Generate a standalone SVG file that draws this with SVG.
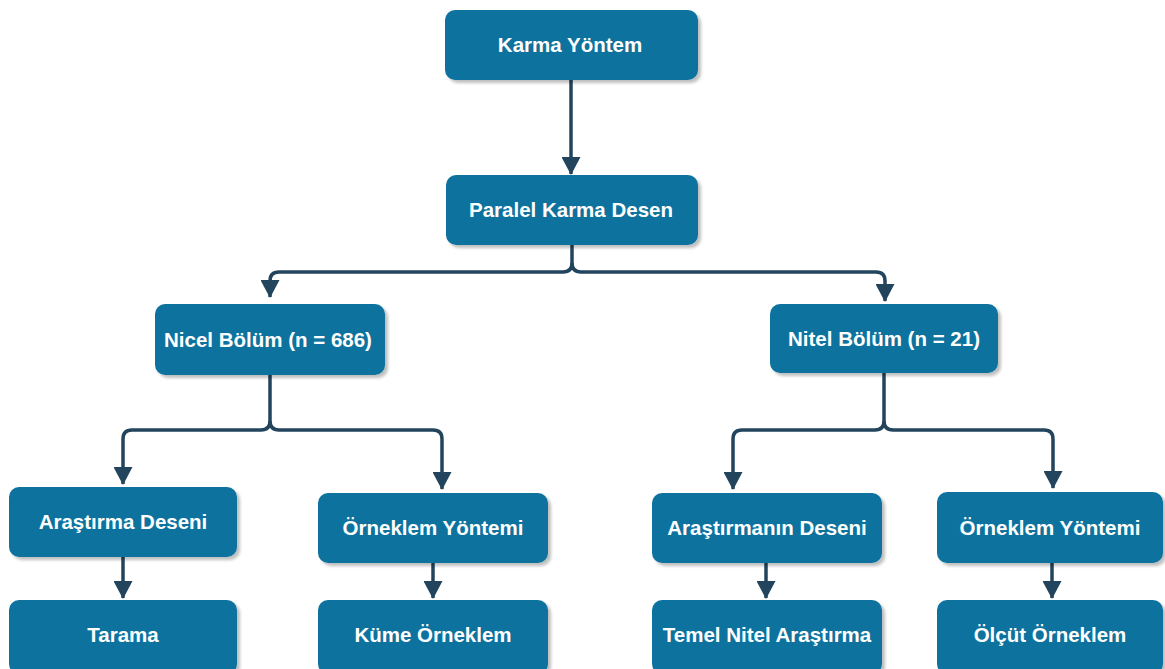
<svg xmlns="http://www.w3.org/2000/svg" width="1165" height="669" viewBox="0 0 1165 669">
<style>
.box{fill:#10739E;filter:url(#sh)}
.t{fill:#ffffff;font-family:"Liberation Sans",Arial,sans-serif;font-weight:bold;font-size:20.5px;text-anchor:middle}
.c{fill:none;stroke:#23445D;stroke-width:3.5;stroke-linejoin:round}
</style>
<defs>
<filter id="sh" x="-10%" y="-10%" width="130%" height="140%">
<feDropShadow dx="3" dy="3" stdDeviation="1.5" flood-color="#000" flood-opacity="0.25"/>
</filter>
<marker id="a" viewBox="0 0 18 19" refX="17" refY="9.5" markerWidth="18" markerHeight="19" orient="auto" markerUnits="userSpaceOnUse">
<path d="M0,0 L18,9.5 L0,19 Z" fill="#23445D"/>
</marker>
</defs>
<rect width="1165" height="669" fill="#ffffff"/>
<g id="connectors">
<path class="c" d="M571,80 V174" marker-end="url(#a)"/>
<path class="c" d="M572,245 V263 Q572,272 563,272 H279 Q270,272 270,281 V297" marker-end="url(#a)"/>
<path class="c" d="M572,263 Q572,272 581,272 H876 Q885,272 885,281 V301" marker-end="url(#a)"/>
<path class="c" d="M270,375 V421 Q270,430 261,430 H132 Q123,430 123,439 V484" marker-end="url(#a)"/>
<path class="c" d="M270,421 Q270,430 279,430 H433 Q442,430 442,439 V489" marker-end="url(#a)"/>
<path class="c" d="M884,373 V421 Q884,430 875,430 H742 Q733,430 733,439 V489" marker-end="url(#a)"/>
<path class="c" d="M884,421 Q884,430 893,430 H1044 Q1053,430 1053,439 V488" marker-end="url(#a)"/>
<path class="c" d="M123,557 V598" marker-end="url(#a)"/>
<path class="c" d="M433,563 V598" marker-end="url(#a)"/>
<path class="c" d="M766,563 V598" marker-end="url(#a)"/>
<path class="c" d="M1052,563 V598" marker-end="url(#a)"/>
</g>
<g id="n-karma"><rect class="box" x="445" y="10" width="253" height="70" rx="10"/><text class="t" x="570" y="52">Karma Yöntem</text></g>
<g id="n-paralel"><rect class="box" x="446" y="175" width="252" height="70" rx="10"/><text class="t" x="571" y="217">Paralel Karma Desen</text></g>
<g id="n-nicel"><rect class="box" x="155" y="304" width="230" height="71" rx="10"/><text class="t" x="268" y="347">Nicel Bölüm (n = 686)</text></g>
<g id="n-nitel"><rect class="box" x="770" y="304" width="228" height="69" rx="10"/><text class="t" x="884" y="346">Nitel Bölüm (n = 21)</text></g>
<g id="n-arastirma"><rect class="box" x="9" y="487" width="228" height="70" rx="10"/><text class="t" x="123" y="529">Araştırma Deseni</text></g>
<g id="n-orneklem1"><rect class="box" x="318" y="493" width="230" height="70" rx="10"/><text class="t" x="433" y="535">Örneklem Yöntemi</text></g>
<g id="n-arastirmanin"><rect class="box" x="652" y="493" width="230" height="70" rx="10"/><text class="t" x="767" y="535">Araştırmanın Deseni</text></g>
<g id="n-orneklem2"><rect class="box" x="937" y="492" width="226" height="71" rx="10"/><text class="t" x="1050" y="535">Örneklem Yöntemi</text></g>
<g id="n-tarama"><rect class="box" x="9" y="600" width="228" height="74" rx="10"/><text class="t" x="123" y="642">Tarama</text></g>
<g id="n-kume"><rect class="box" x="318" y="600" width="230" height="74" rx="10"/><text class="t" x="433" y="642">Küme Örneklem</text></g>
<g id="n-temel"><rect class="box" x="652" y="600" width="230" height="74" rx="10"/><text class="t" x="767" y="642">Temel Nitel Araştırma</text></g>
<g id="n-olcut"><rect class="box" x="937" y="600" width="226" height="74" rx="10"/><text class="t" x="1050" y="642">Ölçüt Örneklem</text></g>
</svg>
